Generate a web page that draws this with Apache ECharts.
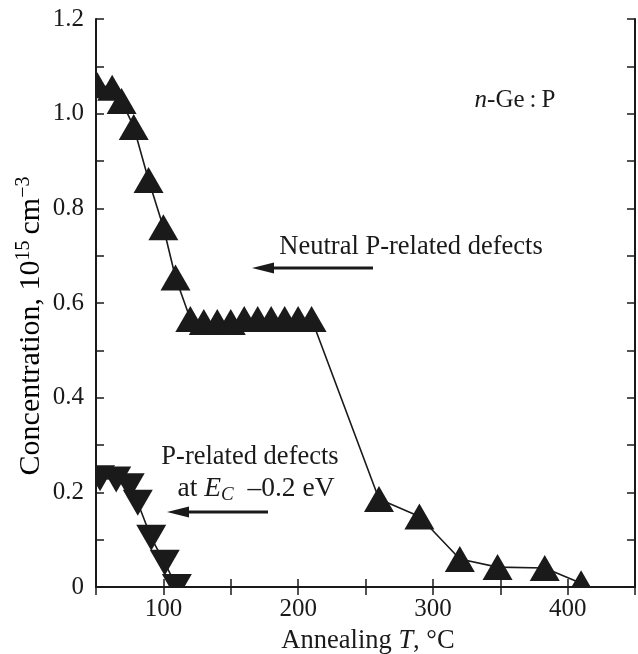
<!DOCTYPE html>
<html>
<head>
<meta charset="utf-8">
<script src="https://cdn.jsdelivr.net/npm/echarts@6/dist/echarts.min.js"></script>
<style>
  html, body { margin: 0; padding: 0; background: #fff; }
  #chart { width: 638px; height: 654px; }
</style>
</head>
<body>
<div id="chart"></div>
<script>
// Annealing temperatures (°C) and concentrations (10^15 cm^-3)
const neutralT = [51, 62, 69, 78, 89, 100, 109, 120, 130, 140, 150, 160, 170, 180, 190, 200, 210, 260, 290, 320, 348, 383, 410];
const neutralC = [1.06, 1.055, 1.027, 0.972, 0.86, 0.76, 0.654, 0.566, 0.56, 0.56, 0.56, 0.566, 0.566, 0.566, 0.566, 0.566, 0.566, 0.186, 0.149, 0.059, 0.042, 0.040, 0.008];

const ecT = [53, 65, 75, 81, 91, 101, 110];
const ecC = [0.230, 0.227, 0.213, 0.178, 0.104, 0.051, 0.0];

const xTickLabels = [100, 200, 300, 400];
const yTickLabels = [0, 0.2, 0.4, 0.6, 0.8, 1.0, 1.2];

const FONT = '"Liberation Serif", "Times New Roman", serif';
const INK = '#1a1a1a';

const chart = echarts.init(document.getElementById('chart'), null, { renderer: 'canvas' });

const pairs = (xs, ys) => xs.map((x, i) => [x, ys[i]]);

const axisCommon = {
  z: 5,
  axisLine: { lineStyle: { color: INK, width: 2 } },
  axisTick: { inside: true, length: 8, lineStyle: { color: INK, width: 1.5 } },
  splitLine: { show: false }
};

chart.setOption({
  animation: false,
  backgroundColor: '#fff',
  grid: { left: 96, right: 3, top: 19, bottom: 67, containLabel: false },
  xAxis: [
    Object.assign({}, axisCommon, {
      type: 'value', min: 50, max: 450, interval: 50, position: 'bottom',
      axisLabel: {
        margin: 10, fontFamily: FONT, fontSize: 25, color: INK,
        formatter: v => (xTickLabels.indexOf(v) >= 0 ? String(v) : '')
      }
    }),
    Object.assign({}, axisCommon, {
      type: 'value', min: 50, max: 450, interval: 50, position: 'top',
      axisLabel: { show: false }
    })
  ],
  yAxis: [
    Object.assign({}, axisCommon, {
      type: 'value', min: 0, max: 1.2, interval: 0.1, position: 'left',
      axisLabel: {
        margin: 12, fontFamily: FONT, fontSize: 25, color: INK,
        formatter: v => {
          const r = Math.round(v * 10) / 10;
          const hit = yTickLabels.find(t => Math.abs(t - r) < 1e-6);
          if (hit === undefined) return '';
          return hit === 0 ? '0' : hit.toFixed(1);
        }
      }
    }),
    Object.assign({}, axisCommon, {
      type: 'value', min: 0, max: 1.2, interval: 0.1, position: 'right',
      axisLabel: { show: false }
    })
  ],
  series: [
    {
      name: 'Neutral P-related defects',
      type: 'line', z: 2, clip: false,
      data: pairs(neutralT, neutralC),
      symbol: 'triangle', symbolSize: [30, 26],
      itemStyle: { color: INK },
      lineStyle: { color: INK, width: 1.6 }
    },
    {
      name: 'P-related defects at Ec-0.2 eV',
      type: 'line', z: 2, clip: false,
      data: pairs(ecT, ecC),
      symbol: 'triangle', symbolRotate: 180, symbolSize: [30, 26],
      itemStyle: { color: INK },
      lineStyle: { color: INK, width: 1.6 }
    }
  ]
});

// Masks outside the plotting frame so markers are cut at the axes
const W = 638, H = 654;
const L = 96, T = 19, R = W - 3, B = H - 67;
const mask = (x, y, w, h) => ({ type: 'rect', z: 3, silent: true, shape: { x, y, width: w, height: h }, style: { fill: '#fff' } });

function arrow(x1, x2, y) {
  // head at x1, tail at x2
  return [
    { type: 'line', z: 10, shape: { x1: x1 + 18, y1: y, x2: x2, y2: y }, style: { stroke: INK, lineWidth: 3 } },
    { type: 'polygon', z: 10, shape: { points: [[x1, y], [x1 + 22, y - 5.5], [x1 + 22, y + 5.5]] }, style: { fill: INK } }
  ];
}

const txt = (x, y, text, rich, align) => ({
  type: 'text', z: 10, x, y,
  style: { text, rich, fill: INK, font: '26px ' + FONT, align: align || 'center', verticalAlign: 'middle' }
});

const base = { fontFamily: FONT, fontSize: 26.5, color: INK, lineHeight: 30 };
const ital = Object.assign({}, base, { fontStyle: 'italic' });
const small = Object.assign({}, base, { fontSize: 25 });
const smallItal = Object.assign({}, small, { fontStyle: 'italic' });
const mid = Object.assign({}, base, { fontSize: 27.5 });
const midItal = Object.assign({}, mid, { fontStyle: 'italic' });

chart.setOption({
  graphic: [
    mask(0, 0, L - 1, H),
    mask(0, B + 1, W, H - B - 1),
    mask(0, 0, W, T - 1),
    mask(R + 1, 0, W - R - 1, H),
    // y-axis title
    {
      type: 'text', z: 10, x: 31, y: 326, rotation: Math.PI / 2,
      style: {
        text: '{a|Concentration, 10}{s|15}{a|\u2009cm}{s|\u22123}',
        align: 'center', verticalAlign: 'middle',
        rich: {
          a: { fontFamily: FONT, fontSize: 30, color: INK, lineHeight: 34 },
          s: { fontFamily: FONT, fontSize: 20, color: INK, lineHeight: 34, verticalAlign: 'top', padding: [0, 0, 14, 0] }
        }
      }
    },
    // x-axis title
    txt(368, 641, '{a|Annealing }{i|T}{a|, °C}', { a: base, i: ital }),
    // sample label
    txt(515, 100, '{i|n}{a|-Ge\u2009:\u2009P}', { a: small, i: smallItal }),
    // neutral defects note
    txt(411, 247, '{a|Neutral P-related defects}', { a: base }),
    ...arrow(252, 373, 268),
    // Ec - 0.2 eV note
    txt(250, 457, '{a|P-related defects}', { a: base }),
    txt(256, 489, '{a|at }{e|E}{c|C}{a|\u2002\u20130.2 eV}', {
      a: mid, e: midItal,
      c: { fontFamily: FONT, fontSize: 19, fontStyle: 'italic', color: INK, lineHeight: 30, verticalAlign: 'bottom', padding: [10, 0, 0, 0] }
    }),
    ...arrow(167, 268, 512)
  ]
});
</script>
</body>
</html>
